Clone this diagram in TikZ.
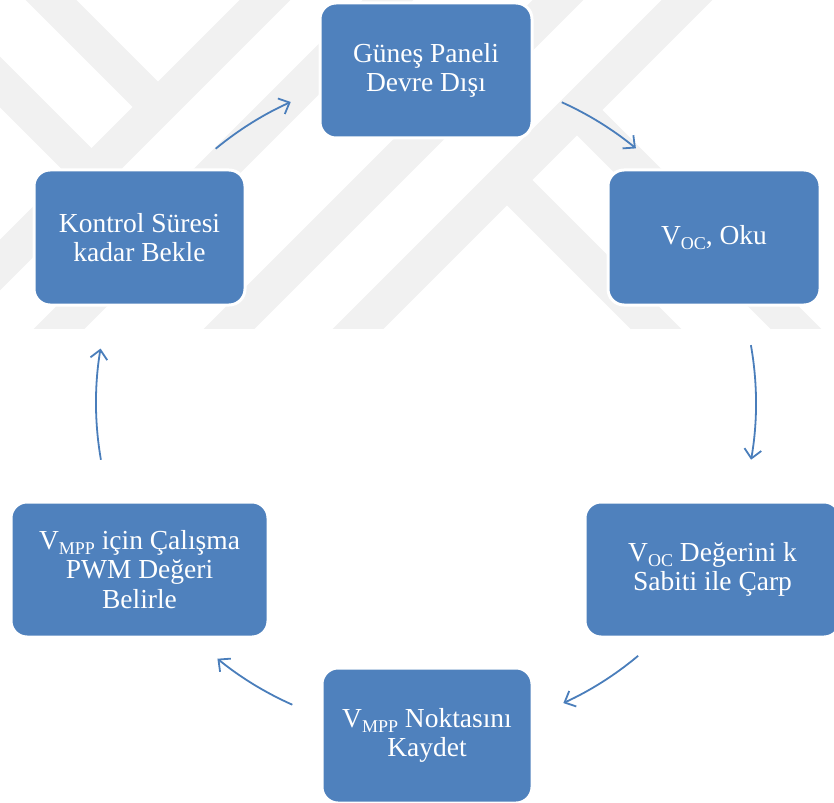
\documentclass[tikz,border=0pt]{standalone}
\usepackage{fontspec}
\setmainfont{Liberation Serif}
\usetikzlibrary{arrows.meta}
\definecolor{boxblue}{RGB}{79,129,189}
\definecolor{arrblue}{RGB}{74,126,187}
\definecolor{wm}{RGB}{241,241,241}
\newcommand{\sbs}[1]{\raisebox{-0.2em}{\fontsize{18}{18}\selectfont #1}}
\begin{document}
\begin{tikzpicture}[x=1pt,y=1pt,
  box/.style={rectangle, rounded corners=16pt, fill=boxblue, draw=white,
    line width=3pt, text=white, align=center, minimum height=135pt,
    inner sep=0pt, font=\fontsize{27.5}{29.5}\selectfont},
  cyc/.style={draw=arrblue, line width=1.8pt,
    -{Straight Barb[length=9pt,width=17pt,line width=1.8pt]}},
  band/.style={draw=wm, line width=36pt, line cap=butt}]
\useasboundingbox (0,0) rectangle (834,-802);
% watermark
\begin{scope}
  \clip (0,0) rectangle (834,-328);
  \draw[band] (-20,-285) -- (285,20);
  \draw[band] (40,-348) -- (408,20);
  \draw[band] (210,-348) -- (578,20);
  \draw[band] (339,-348) -- (707,20);
  \draw[band] (31,20) -- (158,-107);
  \draw[band] (-20,-62) -- (153,-235);
  \draw[band] (507,-180) -- (680,-353);
  \draw[band] (577,-110) -- (820,-353);
\end{scope}
% boxes
\node[box, minimum width=212pt] (n1) at (426,-70.5) {Güneş Paneli\\Devre Dışı};
\node[box, minimum width=212pt] (n2) at (714,-237.5) {V\sbs{OC}, Oku};
\node[box, minimum width=255pt] (n3) at (712.5,-569.5) {V\sbs{OC} Değerini k\\Sabiti ile Çarp};
\node[box, minimum width=210pt] (n4) at (427,-735.5) {V\sbs{MPP} Noktasını\\Kaydet};
\node[box, minimum width=257pt] (n5) at (139.5,-569.5) {V\sbs{MPP} için Çalışma\\PWM Değeri\\Belirle};
\node[box, minimum width=211pt] (n6) at (139.5,-237.5) {Kontrol Süresi\\kadar Bekle};
% cycle arrows
\coordinate (cc) at (426,-403);
\draw[cyc] ([shift={(129.6:330)}]cc) arc[start angle=129.6, end angle=114.2, radius=330pt];
\draw[cyc] ([shift={(65.7:330)}]cc) arc[start angle=65.7, end angle=50.5, radius=330pt];
\draw[cyc] ([shift={(10.1:330)}]cc) arc[start angle=10.1, end angle=-9.9, radius=330pt];
\draw[cyc] ([shift={(-50:330)}]cc) arc[start angle=-50, end angle=-65.4, radius=330pt];
\draw[cyc] ([shift={(-113.9:330)}]cc) arc[start angle=-113.9, end angle=-129.2, radius=330pt];
\draw[cyc] ([shift={(189.9:330)}]cc) arc[start angle=189.9, end angle=170.5, radius=330pt];
\end{tikzpicture}
\end{document}
